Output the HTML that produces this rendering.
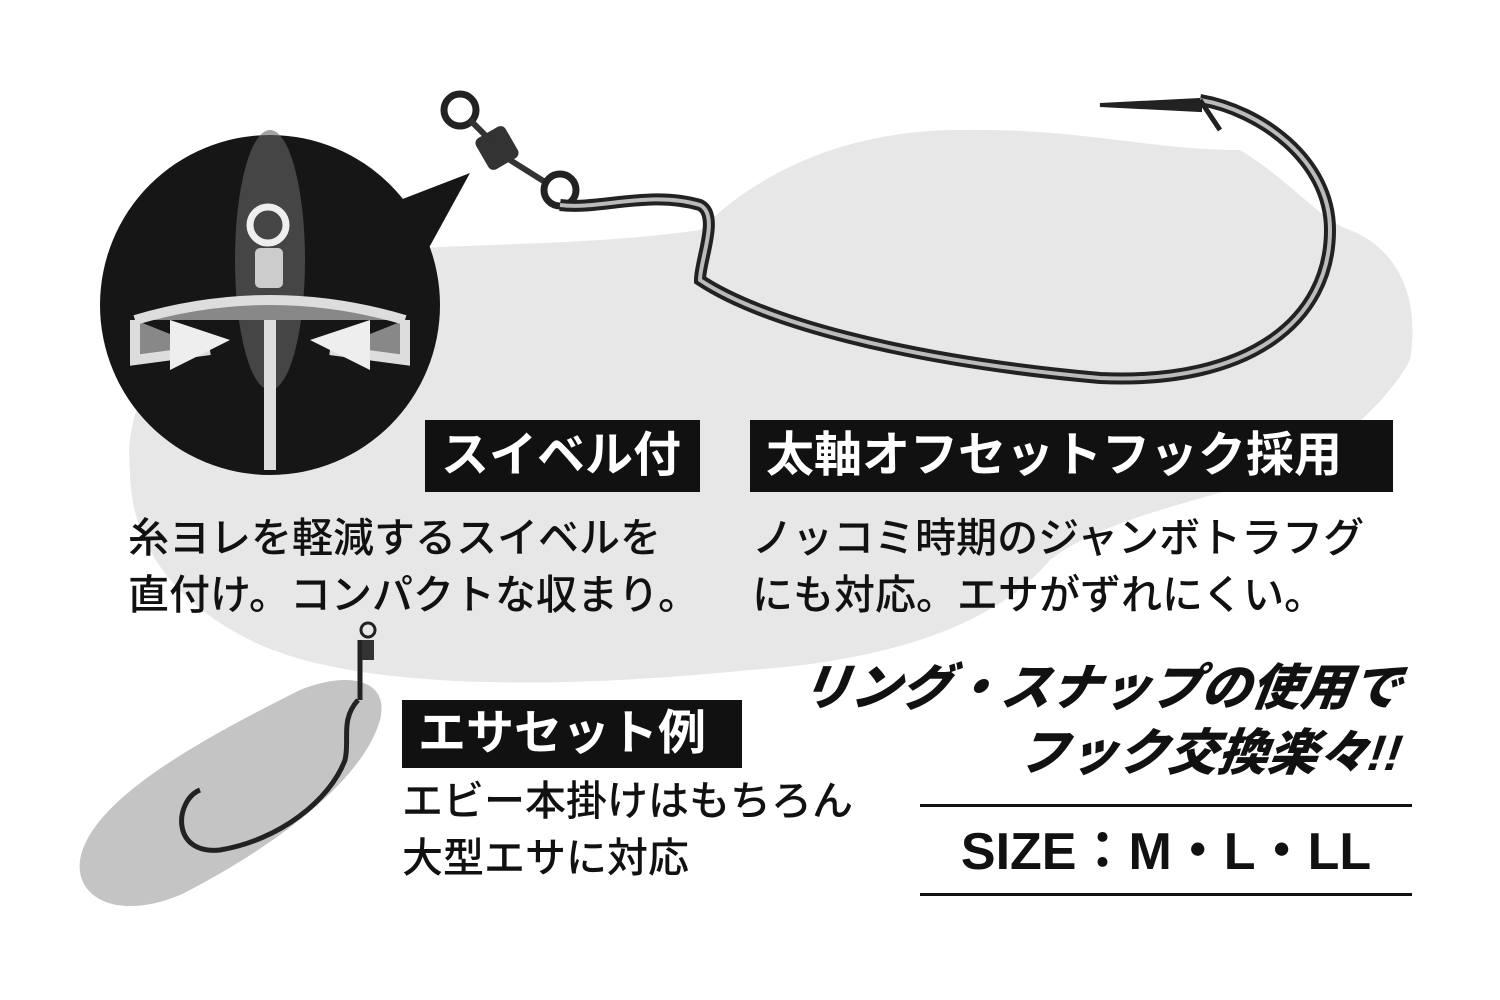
<!DOCTYPE html>
<html><head><meta charset="utf-8"><style>
html,body{margin:0;padding:0;background:#fff;}
#c{position:relative;width:1500px;height:1000px;overflow:hidden;font-family:"Liberation Sans","Noto Sans CJK JP",sans-serif;}
.box{position:absolute;background:#111;color:#fff;font-weight:bold;font-size:48px;line-height:72px;padding:0 16px;white-space:nowrap;}
.t{position:absolute;font-size:41px;line-height:57px;color:#111;white-space:nowrap;font-weight:500;}
.it{position:absolute;font-weight:900;font-style:italic;font-size:50px;color:#111;white-space:nowrap;transform:skewX(-8deg);}
.ln{position:absolute;left:920px;width:492px;height:3px;background:#111;}
</style></head><body><div id="c">
<svg width="1500" height="1000" style="position:absolute;left:0;top:0">
<path d="M130 470 C120 380 200 300 300 260 C420 240 560 250 700 230 C760 170 850 130 960 130 C1080 128 1150 150 1240 150 C1290 180 1320 220 1350 230 C1400 250 1420 300 1410 360 C1390 400 1330 450 1300 470 C1200 500 1100 520 1050 560 C1000 620 900 660 750 670 C550 690 350 690 250 640 C170 600 130 540 130 470Z" fill="#e7e7e7"/>
<path d="M80 860 C90 800 200 740 300 690 C350 670 390 680 380 720 C360 790 250 860 180 895 C120 920 75 900 80 860Z" fill="#c4c4c4"/>
<path d="M360 640 L360 700 M358 700 C340 720 350 740 345 760 C330 800 280 840 220 850 C170 855 175 800 200 790" stroke="#222" stroke-width="5" fill="none"/>
<circle cx="368" cy="630" r="7" stroke="#222" stroke-width="3" fill="none"/>
<rect x="362" y="640" width="12" height="20" fill="#333"/>
<circle cx="270" cy="305" r="170" fill="#161616"/>
<polygon points="400,200 470,173 425,255" fill="#161616"/>
<ellipse cx="270" cy="260" rx="35" ry="130" fill="#666" opacity="0.6"/>
<circle cx="268" cy="225" r="18" stroke="#eee" stroke-width="7" fill="none"/>
<rect x="255" y="248" width="28" height="40" rx="5" fill="#ccc"/>
<path d="M270 320 L270 470" stroke="#ddd" stroke-width="12"/>
<path d="M135 320 L135 360 L210 350 M405 320 L405 360 L330 350 M135 320 Q270 280 405 320" stroke="#ddd" stroke-width="10" fill="#888"/>
<path d="M170 320 L230 340 L170 370Z M370 320 L310 340 L370 370Z" fill="#eee"/>
<circle cx="460" cy="110" r="16" stroke="#222" stroke-width="7" fill="#fff"/>
<rect x="480" y="130" width="34" height="36" rx="6" fill="#333" transform="rotate(-30 497 148)"/>
<path d="M470 120 L490 140 M510 160 L545 182" stroke="#333" stroke-width="6"/>
<circle cx="560" cy="190" r="16" stroke="#222" stroke-width="7" fill="none"/>
<path d="M560 205 C600 210 650 190 700 205 C720 215 700 260 700 280 C760 320 900 360 1100 378 C1250 385 1330 320 1330 230 C1330 160 1260 110 1200 100" stroke="#222" stroke-width="12" fill="none"/>
<path d="M1200 100 L1100 105 L1200 110Z" fill="#222" stroke="#222" stroke-width="4"/>
<path d="M560 205 C600 210 650 190 700 205 C720 215 700 260 700 280 C760 320 900 360 1100 378 C1250 385 1330 320 1330 230 C1330 160 1260 110 1200 100" stroke="#bbb" stroke-width="4" fill="none"/>
<path d="M1200 100 L1220 130" stroke="#222" stroke-width="5"/>
</svg>
<div class="box" style="left:425px;top:420px;width:243px;">スイベル付</div>
<div class="box" style="left:750px;top:420px;width:611px;">太軸オフセットフック採用</div>
<div class="t" style="left:128px;top:510px;">糸ヨレを軽減するスイベルを<br>直付け。コンパクトな収まり。</div>
<div class="t" style="left:752px;top:510px;">ノッコミ時期のジャンボトラフグ<br>にも対応。エサがずれにくい。</div>
<div class="box" style="left:402px;top:700px;width:308px;line-height:68px;">エサセット例</div>
<div class="t" style="left:402px;top:773px;">エビー本掛けはもちろん<br>大型エサに対応</div>
<div class="it" style="right:98px;top:648px;">リング・スナップの使用で</div>
<div class="it" style="right:98px;top:713px;">フック交換楽々!!</div>
<div class="ln" style="top:804px;"></div>
<div class="ln" style="top:893px;"></div>
<div style="position:absolute;left:920px;width:492px;top:820px;text-align:center;font-weight:bold;font-size:52px;line-height:64px;color:#111;">SIZE：M・L・LL</div>
</div></body></html>
